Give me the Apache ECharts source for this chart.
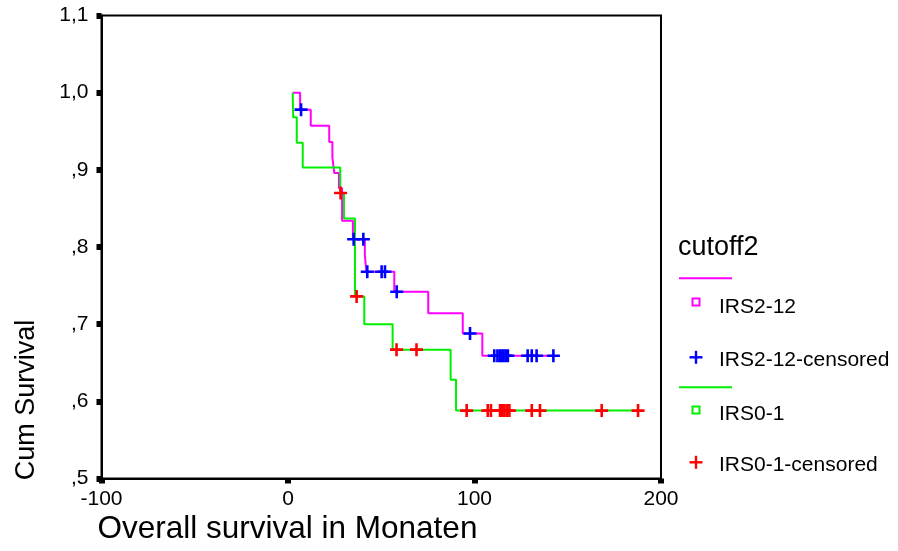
<!DOCTYPE html>
<html>
<head>
<meta charset="utf-8">
<script src="https://cdn.jsdelivr.net/npm/echarts/dist/echarts.min.js"></script>
<style>
  html, body { margin: 0; padding: 0; background: #ffffff; }
  #chart { width: 898px; height: 551px; }
</style>
</head>
<body>
<div id="chart"></div>
<script>
// ---- data ----
const irs212Times = [2.5, 6.5, 12.2, 22.1, 23.8, 24.8, 27.3, 29.0, 34.8, 41.2, 42.0, 57.0, 75.2, 93.7, 104.2, 142.3];
const irs212Surv  = [1.0, 0.978, 0.957, 0.936, 0.916, 0.896, 0.876, 0.834, 0.810, 0.790, 0.768, 0.742, 0.714, 0.688, 0.659, 0.659];
const irs212Censored = [7.0, 35.2, 40.4, 42.5, 50.2, 52.0, 58.3, 97.6, 110.6, 112.3, 113.5, 114.6, 115.6, 116.8, 117.9, 128.5, 130.7, 133.3, 142.3];

const irs01Times = [2.5, 2.8, 4.7, 7.9, 28.0, 30.0, 35.9, 40.9, 56.1, 87.2, 90.1, 187.7];
const irs01Surv  = [1.0, 0.968, 0.935, 0.903, 0.870, 0.837, 0.736, 0.700, 0.667, 0.628, 0.588, 0.588];
const irs01Censored = [28.2, 36.8, 58.2, 68.9, 95.8, 107.1, 108.8, 113.7, 114.7, 116.0, 117.3, 118.7, 130.7, 135.1, 168.2, 187.7];

const xTickLabels = ['-100', '0', '100', '200'];
const yTickLabels = [',5', ',6', ',7', ',8', ',9', '1,0', '1,1'];
const legendTitle = 'cutoff2';
const legendLabels = ['IRS2-12', 'IRS2-12-censored', 'IRS0-1', 'IRS0-1-censored'];
const xAxisTitle = 'Overall survival in Monaten';
const yAxisTitle = 'Cum Survival';

// ---- helpers ----
function curve(times, surv) { return times.map((t, i) => [t, surv[i]]); }
function survAt(times, surv, t) {
  let s = surv[0];
  for (let i = 0; i < times.length; i++) { if (times[i] <= t) s = surv[i]; }
  return s;
}
function censorPoints(times, surv, cens) { return cens.map(t => [t, survAt(times, surv, t)]); }

const FONT = '"Liberation Sans", Arial, sans-serif';
const MAGENTA = '#ff00ff', BLUE = '#0000ff', GREEN = '#00ee00', RED = '#ff0000';
const PLUS = 'path://M4.8,0H7.2V4.8H12V7.2H7.2V12H4.8V7.2H0V4.8H4.8Z';

const chart = echarts.init(document.getElementById('chart'), null, { renderer: 'canvas' });

// legend built from graphic elements
const lx = 696;
const legendGraphic = [
  { type: 'text', style: { x: 678, y: 247.5, text: legendTitle, font: '27px ' + FONT, fill: '#000', verticalAlign: 'middle' } },
  { type: 'line', shape: { x1: 679, y1: 278.3, x2: 732, y2: 278.3 }, style: { stroke: MAGENTA, lineWidth: 2 } },
  { type: 'rect', shape: { x: lx - 3.5, y: 298.5, width: 7, height: 7 }, style: { fill: '#fff', stroke: MAGENTA, lineWidth: 2 } },
  { type: 'text', style: { x: 719, y: 307, text: legendLabels[0], font: '21px ' + FONT, fill: '#000', verticalAlign: 'middle' } },
  { type: 'rect', shape: { x: lx - 6.5, y: 356.1, width: 13, height: 2.4 }, style: { fill: BLUE } },
  { type: 'rect', shape: { x: lx - 1.2, y: 350.8, width: 2.4, height: 13 }, style: { fill: BLUE } },
  { type: 'text', style: { x: 719, y: 360, text: legendLabels[1], font: '21px ' + FONT, fill: '#000', verticalAlign: 'middle' } },
  { type: 'line', shape: { x1: 679, y1: 387.3, x2: 732, y2: 387.3 }, style: { stroke: GREEN, lineWidth: 2 } },
  { type: 'rect', shape: { x: lx - 3.5, y: 406.5, width: 7, height: 7 }, style: { fill: '#fff', stroke: GREEN, lineWidth: 2 } },
  { type: 'text', style: { x: 719, y: 414, text: legendLabels[2], font: '21px ' + FONT, fill: '#000', verticalAlign: 'middle' } },
  { type: 'rect', shape: { x: lx - 6.5, y: 461.1, width: 13, height: 2.4 }, style: { fill: RED } },
  { type: 'rect', shape: { x: lx - 1.2, y: 455.8, width: 2.4, height: 13 }, style: { fill: RED } },
  { type: 'text', style: { x: 719, y: 465.6, text: legendLabels[3], font: '21px ' + FONT, fill: '#000', verticalAlign: 'middle' } },
  { type: 'text', rotation: Math.PI / 2, x: 27, y: 400,
    style: { x: 0, y: 0, text: yAxisTitle, font: '27px ' + FONT, fill: '#000', align: 'center', verticalAlign: 'middle' } }
];

const option = {
  backgroundColor: '#ffffff',
  animation: false,
  grid: { left: 101.5, right: 237, top: 15.5, bottom: 72.5, show: true, borderColor: '#000', borderWidth: 2, backgroundColor: 'transparent' },
  xAxis: {
    type: 'value', min: -100, max: 200, interval: 100,
    name: xAxisTitle, nameLocation: 'start', nameGap: 4,
    nameTextStyle: { fontFamily: FONT, fontSize: 31.5, color: '#000', align: 'left', verticalAlign: 'top', padding: [35, 0, 0, 0] },
    axisLine: { show: true, onZero: false, lineStyle: { color: '#000', width: 2 } },
    axisTick: { show: true, length: 5, lineStyle: { color: '#000', width: 6 } },
    axisLabel: { color: '#000', fontFamily: FONT, fontSize: 21, margin: 10,
      formatter: v => xTickLabels[Math.round((v + 100) / 100)] },
    splitLine: { show: false }
  },
  yAxis: {
    type: 'value', min: 0.5, max: 1.1, interval: 0.1,
    axisLine: { show: true, onZero: false, lineStyle: { color: '#000', width: 2 } },
    axisTick: { show: true, length: 5, lineStyle: { color: '#000', width: 6 } },
    axisLabel: { color: '#000', fontFamily: FONT, fontSize: 21, margin: 13,
      formatter: v => yTickLabels[Math.round((v - 0.5) / 0.1)] },
    splitLine: { show: false }
  },
  series: [
    { name: legendLabels[0], type: 'line', step: 'end', data: curve(irs212Times, irs212Surv),
      symbol: 'none', lineStyle: { color: MAGENTA, width: 2 }, z: 2 },
    { name: legendLabels[2], type: 'line', step: 'end', data: curve(irs01Times, irs01Surv),
      symbol: 'none', lineStyle: { color: GREEN, width: 2 }, z: 3 },
    { name: legendLabels[1], type: 'scatter', data: censorPoints(irs212Times, irs212Surv, irs212Censored),
      symbol: PLUS, symbolSize: 13, itemStyle: { color: BLUE, opacity: 1 }, z: 4 },
    { name: legendLabels[3], type: 'scatter', data: censorPoints(irs01Times, irs01Surv, irs01Censored),
      symbol: PLUS, symbolSize: 13, itemStyle: { color: RED, opacity: 1 }, z: 5 }
  ],
  graphic: legendGraphic
};
chart.setOption(option);
</script>
</body>
</html>
